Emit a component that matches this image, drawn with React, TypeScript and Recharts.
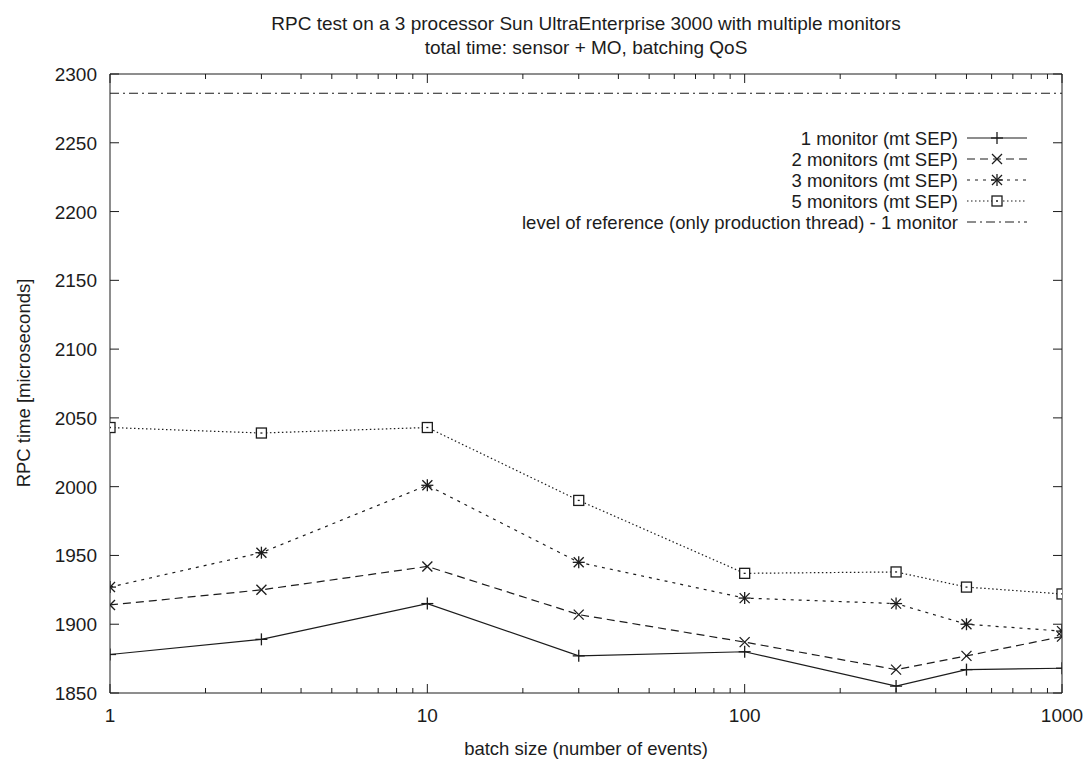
import { LineChart, Line, XAxis, YAxis, ReferenceLine } from 'recharts';

// batch sizes (x) and RPC times in microseconds
const BATCH_SIZES = [1, 3, 10, 30, 100, 300, 500, 1000];
const ONE_MONITOR = [1878, 1889, 1915, 1877, 1880, 1855, 1867, 1868];
const TWO_MONITORS = [1914, 1925, 1942, 1907, 1887, 1867, 1877, 1891];
const THREE_MONITORS = [1927, 1952, 2001, 1945, 1919, 1915, 1900, 1895];
const FIVE_MONITORS = [2043, 2039, 2043, 1990, 1937, 1938, 1927, 1922];
const REFERENCE_LEVEL = 2286;

const X_TICKS = [
  1, 2, 3, 4, 5, 6, 7, 8, 9,
  10, 20, 30, 40, 50, 60, 70, 80, 90,
  100, 200, 300, 400, 500, 600, 700, 800, 900,
  1000,
];
const X_LABELED = [1, 10, 100, 1000];
const Y_TICKS = [1850, 1900, 1950, 2000, 2050, 2100, 2150, 2200, 2250, 2300];

const SERIES_NAMES = [
  '1 monitor (mt SEP)',
  '2 monitors (mt SEP)',
  '3 monitors (mt SEP)',
  '5 monitors (mt SEP)',
  'level of reference (only production thread) - 1 monitor',
];

const data = BATCH_SIZES.map((x, i) => ({
  x,
  one: ONE_MONITOR[i],
  two: TWO_MONITORS[i],
  three: THREE_MONITORS[i],
  five: FIVE_MONITORS[i],
}));

const W = 1087;
const H = 759;
const LEFT = 110;
const RIGHT = 1062;
const TOP = 74;
const BOTTOM = 693;
const INK = '#1c1c1c';
const FONT = '"Liberation Sans", Arial, Helvetica, sans-serif';

const DASHES = ['', '8 5', '3 5', '1.5 2.5', '9 4 2 4'];

type MarkProps = { cx?: number; cy?: number };

const Plus = ({ cx = 0, cy = 0 }: MarkProps) => (
  <g stroke={INK} strokeWidth={1.3}>
    <line x1={cx - 6} x2={cx + 6} y1={cy} y2={cy} />
    <line x1={cx} x2={cx} y1={cy - 6} y2={cy + 6} />
  </g>
);

const Cross = ({ cx = 0, cy = 0 }: MarkProps) => (
  <g stroke={INK} strokeWidth={1.3}>
    <line x1={cx - 5} x2={cx + 5} y1={cy - 5} y2={cy + 5} />
    <line x1={cx - 5} x2={cx + 5} y1={cy + 5} y2={cy - 5} />
  </g>
);

const Star = ({ cx = 0, cy = 0 }: MarkProps) => (
  <g>
    <Plus cx={cx} cy={cy} />
    <Cross cx={cx} cy={cy} />
  </g>
);

const Box = ({ cx = 0, cy = 0 }: MarkProps) => (
  <g stroke={INK} strokeWidth={1.3}>
    <rect x={cx - 5} y={cy - 5} width={10} height={10} fill="#fff" />
    <line x1={cx - 1} x2={cx + 1} y1={cy} y2={cy} />
  </g>
);

const MARKS = [Plus, Cross, Star, Box];

const XTick = (props: any) => {
  const { x, payload } = props;
  const major = X_LABELED.includes(payload.value);
  const len = major ? 9 : 5;
  return (
    <g>
      <line x1={x} x2={x} y1={BOTTOM} y2={BOTTOM - len} stroke={INK} />
      <line x1={x} x2={x} y1={TOP} y2={TOP + len} stroke={INK} />
      {major && (
        <text x={x} y={BOTTOM + 29} textAnchor="middle" fill={INK} fontSize={19} fontFamily={FONT}>
          {payload.value}
        </text>
      )}
    </g>
  );
};

const YTick = (props: any) => {
  const { y, payload } = props;
  return (
    <g>
      <line x1={LEFT} x2={LEFT + 9} y1={y} y2={y} stroke={INK} />
      <line x1={RIGHT} x2={RIGHT - 9} y1={y} y2={y} stroke={INK} />
      <text x={LEFT - 13} y={y + 7} textAnchor="end" fill={INK} fontSize={19} fontFamily={FONT}>
        {payload.value}
      </text>
    </g>
  );
};

const Overlay = () => {
  const rowY = [138, 159, 180, 201, 222];
  return (
    <svg width={W} height={H} style={{ position: 'absolute', left: 0, top: 0, pointerEvents: 'none' }}>
      <g fill={INK} fontFamily={FONT} fontSize={18.5}>
        <text x={586} y={30} textAnchor="middle" fontSize={19}>
          RPC test on a 3 processor Sun UltraEnterprise 3000 with multiple monitors
        </text>
        <text x={586} y={54} textAnchor="middle" fontSize={19}>
          total time: sensor + MO, batching QoS
        </text>
        <text x={586} y={755} textAnchor="middle">
          batch size (number of events)
        </text>
        <text x={23} y={383} textAnchor="middle" dominantBaseline="central" transform="rotate(-90 23 383)">
          RPC time [microseconds]
        </text>
        {SERIES_NAMES.map((name, i) => {
          const Mark = MARKS[i];
          return (
            <g key={name}>
              <text x={958} y={rowY[i] + 6.5} textAnchor="end">
                {name}
              </text>
              <line
                x1={967}
                x2={1027}
                y1={rowY[i]}
                y2={rowY[i]}
                stroke={INK}
                strokeWidth={1.2}
                strokeDasharray={DASHES[i]}
              />
              {Mark && <Mark cx={997} cy={rowY[i]} />}
            </g>
          );
        })}
      </g>
    </svg>
  );
};

const keys = ['one', 'two', 'three', 'five'];

export default function App() {
  return (
    <div style={{ position: 'absolute', left: 0, top: 0, width: W, height: H, background: '#fff' }}>
      <LineChart
        width={W}
        height={H}
        data={data}
        margin={{ top: TOP - 1, right: W - RIGHT - 1, bottom: H - BOTTOM - 1, left: LEFT - 1 }}
      >
        <XAxis
          dataKey="x"
          type="number"
          scale="log"
          domain={[1, 1000]}
          ticks={X_TICKS}
          interval={0}
          height={1}
          tickLine={false}
          axisLine={{ stroke: INK }}
          tick={<XTick />}
          allowDataOverflow
        />
        <XAxis xAxisId="top" orientation="top" dataKey="x" type="number" scale="log" domain={[1, 1000]} height={1} tick={false} tickLine={false} axisLine={{ stroke: INK }} />
        <YAxis
          type="number"
          domain={[1850, 2300]}
          ticks={Y_TICKS}
          interval={0}
          width={1}
          tickLine={false}
          axisLine={{ stroke: INK }}
          tick={<YTick />}
          allowDataOverflow
        />
        <YAxis yAxisId="right" orientation="right" type="number" domain={[1850, 2300]} width={1} tick={false} tickLine={false} axisLine={{ stroke: INK }} />
        <ReferenceLine y={REFERENCE_LEVEL} stroke={INK} strokeWidth={1.2} strokeDasharray={DASHES[4]} />
        {keys.map((k, i) => {
          const Mark = MARKS[i];
          return (
            <Line
              key={k}
              dataKey={k}
              type="linear"
              stroke={INK}
              strokeWidth={1.2}
              strokeDasharray={DASHES[i] || undefined}
              dot={(p: any) => <Mark key={`${k}-${p.index}`} cx={p.cx} cy={p.cy} />}
              activeDot={false}
              isAnimationActive={false}
            />
          );
        })}
      </LineChart>
      <Overlay />
    </div>
  );
}
